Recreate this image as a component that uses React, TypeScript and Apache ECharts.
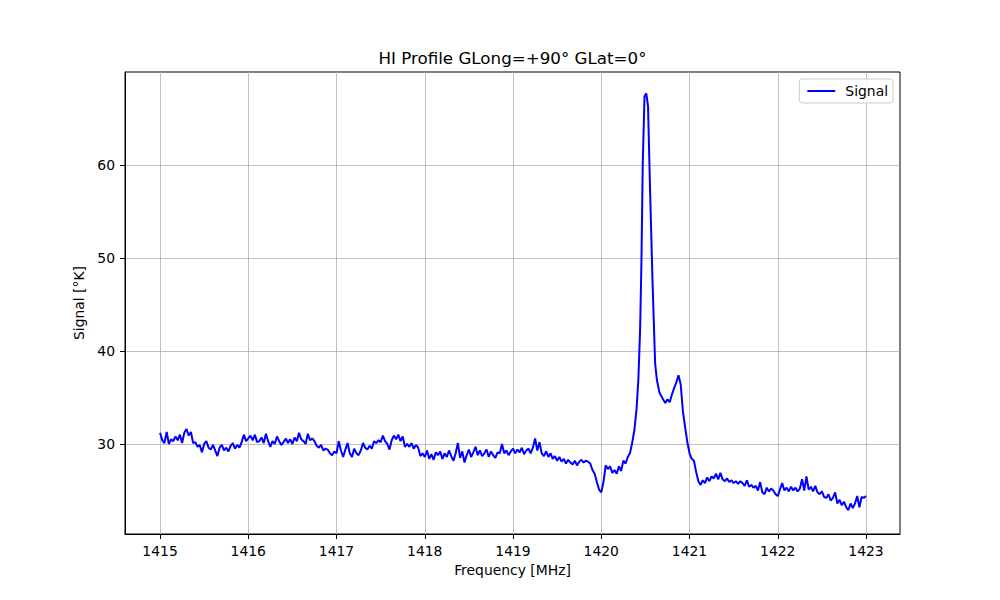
import React, { useEffect, useRef } from "react";
import * as echarts from "echarts";

// [frequency MHz, signal °K]
const signalPoints: [number, number][] = [
  [1415.0, 31.2], [1415.025, 30.4], [1415.05, 30.1], [1415.075, 31.3], [1415.1, 30.0],
  [1415.125, 30.5], [1415.15, 30.3], [1415.175, 30.8], [1415.2, 30.4], [1415.225, 31.0],
  [1415.25, 30.1], [1415.275, 31.2], [1415.3, 31.6], [1415.325, 30.9], [1415.35, 31.3],
  [1415.375, 30.1], [1415.4, 30.2], [1415.425, 29.7], [1415.45, 29.9], [1415.475, 29.1],
  [1415.5, 30.0], [1415.525, 30.3], [1415.55, 29.6], [1415.575, 29.4], [1415.6, 29.9],
  [1415.625, 29.3], [1415.65, 28.7], [1415.675, 29.6], [1415.7, 29.9], [1415.725, 29.3],
  [1415.75, 29.6], [1415.775, 29.2], [1415.8, 29.8], [1415.825, 30.1], [1415.85, 29.5],
  [1415.875, 29.9], [1415.9, 29.6], [1415.925, 30.2], [1415.95, 31.0], [1415.975, 30.3],
  [1416.0, 30.6], [1416.025, 30.9], [1416.05, 30.4], [1416.075, 31.0], [1416.1, 30.2],
  [1416.125, 30.3], [1416.15, 30.7], [1416.175, 30.1], [1416.2, 31.1], [1416.225, 30.3],
  [1416.25, 29.7], [1416.275, 30.3], [1416.3, 30.0], [1416.325, 30.8], [1416.35, 30.3],
  [1416.375, 29.9], [1416.4, 30.2], [1416.425, 30.6], [1416.45, 30.1], [1416.475, 30.5],
  [1416.5, 30.0], [1416.525, 30.7], [1416.55, 30.3], [1416.575, 31.2], [1416.6, 30.5],
  [1416.625, 30.3], [1416.65, 30.0], [1416.675, 31.1], [1416.7, 30.4], [1416.725, 30.6],
  [1416.75, 30.3], [1416.775, 29.8], [1416.8, 29.6], [1416.825, 29.9], [1416.85, 29.3],
  [1416.875, 29.5], [1416.9, 29.4], [1416.925, 29.0], [1416.95, 28.8], [1416.975, 29.2],
  [1417.0, 29.0], [1417.025, 30.3], [1417.05, 29.3], [1417.075, 28.6], [1417.1, 29.4],
  [1417.125, 30.1], [1417.15, 29.0], [1417.175, 28.6], [1417.2, 29.5], [1417.225, 29.0],
  [1417.25, 28.8], [1417.275, 29.3], [1417.3, 30.1], [1417.325, 29.6], [1417.35, 29.4],
  [1417.375, 29.8], [1417.4, 29.5], [1417.425, 30.3], [1417.45, 30.1], [1417.475, 30.4],
  [1417.5, 30.2], [1417.525, 30.9], [1417.55, 30.3], [1417.575, 30.0], [1417.6, 29.4],
  [1417.625, 30.4], [1417.65, 30.9], [1417.675, 30.5], [1417.7, 31.0], [1417.725, 30.3],
  [1417.75, 30.8], [1417.775, 29.7], [1417.8, 30.0], [1417.825, 29.7], [1417.85, 30.1],
  [1417.875, 29.5], [1417.9, 29.9], [1417.925, 29.6], [1417.95, 28.7], [1417.975, 29.0],
  [1418.0, 28.6], [1418.025, 29.3], [1418.05, 28.4], [1418.075, 28.9], [1418.1, 28.3],
  [1418.125, 29.1], [1418.15, 28.8], [1418.175, 29.2], [1418.2, 28.4], [1418.225, 29.0],
  [1418.25, 28.6], [1418.275, 29.3], [1418.3, 28.7], [1418.325, 28.2], [1418.35, 29.0],
  [1418.375, 30.1], [1418.4, 28.5], [1418.425, 29.2], [1418.45, 28.0], [1418.475, 28.8],
  [1418.5, 29.4], [1418.525, 28.6], [1418.55, 29.1], [1418.575, 29.7], [1418.6, 28.8],
  [1418.625, 29.3], [1418.65, 28.7], [1418.675, 29.0], [1418.7, 29.4], [1418.725, 28.6],
  [1418.75, 29.2], [1418.775, 28.8], [1418.8, 28.5], [1418.825, 29.1], [1418.85, 29.0],
  [1418.875, 30.0], [1418.9, 29.0], [1418.925, 29.3], [1418.95, 28.8], [1418.975, 29.2],
  [1419.0, 29.5], [1419.025, 29.0], [1419.05, 29.4], [1419.075, 29.1], [1419.1, 29.6],
  [1419.125, 28.9], [1419.15, 29.3], [1419.175, 29.5], [1419.2, 29.0], [1419.225, 29.6],
  [1419.25, 30.6], [1419.275, 29.3], [1419.3, 30.2], [1419.325, 29.0], [1419.35, 28.7],
  [1419.375, 29.2], [1419.4, 28.6], [1419.425, 29.0], [1419.45, 28.4], [1419.475, 28.7],
  [1419.5, 28.2], [1419.525, 28.6], [1419.55, 28.1], [1419.575, 28.4], [1419.6, 27.9],
  [1419.625, 28.3], [1419.65, 28.0], [1419.675, 27.8], [1419.7, 28.2], [1419.725, 27.7],
  [1419.75, 28.1], [1419.775, 28.3], [1419.8, 28.0], [1419.825, 28.2], [1419.85, 28.1],
  [1419.875, 27.9], [1419.9, 27.2], [1419.925, 26.8], [1419.95, 25.9], [1419.975, 25.1],
  [1420.0, 24.8], [1420.025, 25.9], [1420.05, 27.7], [1420.075, 27.3], [1420.1, 27.6],
  [1420.125, 26.9], [1420.15, 27.2], [1420.175, 26.8], [1420.2, 27.6], [1420.225, 27.1],
  [1420.25, 28.2], [1420.275, 27.9], [1420.3, 28.6], [1420.325, 29.0], [1420.35, 30.1],
  [1420.375, 31.5], [1420.4, 33.8], [1420.42, 36.9], [1420.44, 42.3], [1420.455, 49.5],
  [1420.47, 60.2], [1420.49, 67.4], [1420.51, 67.7], [1420.53, 66.3], [1420.55, 58.4],
  [1420.565, 53.0], [1420.58, 47.7], [1420.61, 38.7], [1420.63, 36.9], [1420.66, 35.5],
  [1420.7, 34.8], [1420.725, 34.4], [1420.75, 34.8], [1420.775, 34.5], [1420.8, 35.3],
  [1420.825, 36.0], [1420.85, 36.6], [1420.875, 37.4], [1420.9, 36.4], [1420.925, 33.5],
  [1420.95, 31.8], [1420.975, 30.2], [1421.0, 29.0], [1421.025, 28.4], [1421.05, 28.2],
  [1421.075, 27.0], [1421.1, 26.0], [1421.125, 25.6], [1421.15, 26.1], [1421.175, 25.8],
  [1421.2, 26.4], [1421.225, 26.0], [1421.25, 26.5], [1421.275, 26.3], [1421.3, 26.8],
  [1421.325, 26.2], [1421.35, 26.9], [1421.375, 26.2], [1421.4, 26.0], [1421.425, 26.3],
  [1421.45, 25.9], [1421.475, 26.1], [1421.5, 25.8], [1421.525, 26.0], [1421.55, 25.7],
  [1421.575, 26.0], [1421.6, 25.8], [1421.625, 25.5], [1421.65, 26.1], [1421.675, 25.4],
  [1421.7, 25.6], [1421.725, 25.3], [1421.75, 25.5], [1421.775, 25.0], [1421.8, 25.9],
  [1421.825, 24.8], [1421.85, 24.6], [1421.875, 25.3], [1421.9, 24.9], [1421.925, 25.2],
  [1421.95, 25.0], [1421.975, 24.6], [1422.0, 24.4], [1422.025, 25.1], [1422.05, 25.8],
  [1422.075, 25.0], [1422.1, 25.3], [1422.125, 24.9], [1422.15, 25.4], [1422.175, 25.0],
  [1422.2, 25.3], [1422.225, 24.9], [1422.25, 25.2], [1422.275, 26.2], [1422.3, 25.0],
  [1422.325, 26.5], [1422.35, 25.1], [1422.375, 25.4], [1422.4, 24.9], [1422.425, 25.5],
  [1422.45, 24.8], [1422.475, 24.6], [1422.5, 24.9], [1422.525, 24.3], [1422.55, 24.2],
  [1422.575, 24.6], [1422.6, 23.9], [1422.625, 24.2], [1422.65, 24.8], [1422.675, 23.6],
  [1422.7, 24.0], [1422.725, 23.4], [1422.75, 23.8], [1422.775, 23.2], [1422.8, 22.9],
  [1422.825, 23.6], [1422.85, 23.1], [1422.875, 23.6], [1422.9, 24.4], [1422.925, 23.2],
  [1422.95, 24.3], [1422.975, 24.2], [1423.0, 24.4],
];

const xTicks = [1415, 1416, 1417, 1418, 1419, 1420, 1421, 1422, 1423];
const yTicks = [30, 40, 50, 60];

const FONT = "'DejaVu Sans', sans-serif";

export default function App() {
  const ref = useRef<HTMLDivElement>(null);
  useEffect(() => {
    const chart = echarts.init(ref.current!, null, { renderer: "svg" });
    chart.setOption({
      animation: false,
      backgroundColor: "#ffffff",
      grid: {
        left: 125,
        right: 100,
        top: 72,
        bottom: 66,
        show: true,
        borderColor: "#000000",
        borderWidth: 1,
        backgroundColor: "transparent",
      },
      graphic: [
        {
          type: "text",
          x: 512.5,
          y: 58,
          style: {
            text: "HI Profile GLong=+90° GLat=0°",
            textAlign: "center",
            textVerticalAlign: "middle",
            fontSize: 16.7,
            fontFamily: FONT,
            fill: "#000000",
          },
        },
      ],
      legend: {
        right: 107,
        top: 79,
        icon: "rect",
        itemWidth: 28,
        itemHeight: 2,
        padding: [5, 5, 5, 8],
        borderColor: "#cccccc",
        borderWidth: 1,
        borderRadius: 3,
        backgroundColor: "rgba(255,255,255,0.8)",
        textStyle: {
          fontSize: 13.9,
          fontFamily: FONT,
          color: "#000000",
          padding: [0, 0, 0, 5],
        },
        data: ["Signal"],
      },
      xAxis: {
        type: "value",
        min: 1414.603,
        max: 1423.385,
        name: "Frequency [MHz]",
        nameLocation: "middle",
        nameGap: 28,
        nameTextStyle: { fontSize: 13.9, fontFamily: FONT, color: "#000000" },
        axisLine: { show: true, onZero: false, lineStyle: { color: "#000000", width: 1 } },
        axisTick: {
          show: true,
          length: 5,
          customValues: xTicks,
          lineStyle: { color: "#000000", width: 1 },
        },
        axisLabel: {
          customValues: xTicks,
          margin: 10,
          color: "#000000",
          fontSize: 13.9,
          fontFamily: FONT,
          formatter: (v: number) => String(Math.round(v)),
        },
        splitLine: { show: true, lineStyle: { color: "#b0b0b0", width: 0.8 } },
      },
      yAxis: {
        type: "value",
        min: 20.32,
        max: 70.0,
        name: "Signal [°K]",
        nameLocation: "middle",
        nameGap: 33,
        nameRotate: 90,
        nameTextStyle: { fontSize: 13.9, fontFamily: FONT, color: "#000000" },
        axisLine: { show: true, onZero: false, lineStyle: { color: "#000000", width: 1 } },
        axisTick: {
          show: true,
          length: 5,
          customValues: yTicks,
          lineStyle: { color: "#000000", width: 1 },
        },
        axisLabel: {
          customValues: yTicks,
          margin: 10,
          color: "#000000",
          fontSize: 13.9,
          fontFamily: FONT,
          formatter: (v: number) => String(Math.round(v)),
        },
        splitLine: { show: true, lineStyle: { color: "#b0b0b0", width: 0.8 } },
      },
      series: [
        {
          type: "line",
          name: "Signal",
          data: signalPoints,
          symbol: "none",
          showSymbol: false,
          smooth: false,
          lineStyle: { color: "#0000ff", width: 2 },
          itemStyle: { color: "#0000ff" },
        },
      ],
    });
    return () => chart.dispose();
  }, []);
  return (
    <div
      ref={ref}
      style={{ position: "absolute", left: 0, top: 0, width: 1000, height: 600 }}
    />
  );
}
